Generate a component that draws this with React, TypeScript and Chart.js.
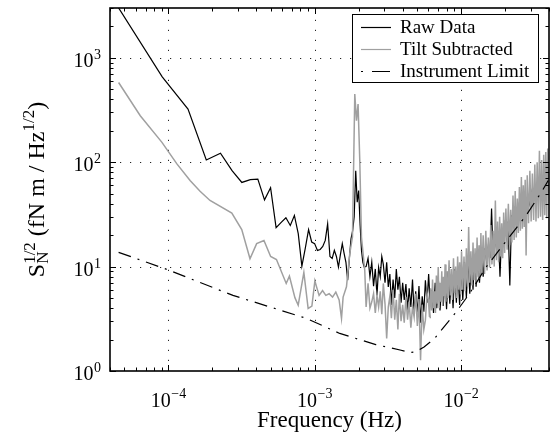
import React, { useEffect, useRef } from "react";
import { Chart, registerables } from "chart.js";

Chart.register(...registerables);

const FONT = '"Liberation Serif", "Times New Roman", Times, serif';

// ---------- Raw data (black) : low-frequency bins ----------
const rawLowFreqHz = [
  4.55e-5, 9.1e-5, 1.365e-4, 1.82e-4, 2.275e-4, 2.73e-4, 3.185e-4, 3.64e-4, 4.095e-4, 4.55e-4,
  5.005e-4, 5.46e-4, 5.915e-4, 6.37e-4, 6.825e-4, 7.28e-4, 7.735e-4, 8.19e-4, 8.645e-4, 9.1e-4,
  9.555e-4, 1.001e-3, 1.0465e-3, 1.092e-3, 1.1375e-3, 1.183e-3, 1.2285e-3, 1.274e-3, 1.3195e-3, 1.365e-3,
  1.4105e-3, 1.456e-3, 1.5015e-3, 1.547e-3, 1.5925e-3, 1.638e-3, 1.6835e-3, 1.729e-3, 1.7745e-3, 1.82e-3,
  1.8655e-3, 1.911e-3, 1.9565e-3, 2.002e-3, 2.0475e-3, 2.093e-3, 2.1385e-3, 2.184e-3,
];
const rawLowValues = [
  3050, 657, 323, 105, 122, 83, 64, 68, 69, 43.6,
  57, 23.6, 26.5, 29.4, 24.8, 30.9, 20.7, 10.1, 15, 22.6,
  17.2, 16.6, 14.3, 14.6, 15.6, 17.8, 25.7, 12.5, 12, 14.3,
  12.5, 9.9, 13, 16.6, 13.3, 11, 7.4, 12, 18.5, 22,
  30, 83, 41.4, 53.5, 25, 14.3, 11, 9.9,
];

// ---------- Tilt subtracted (grey) : low-frequency part ----------
const tiltLowFreqHz = [
  4.58e-5, 6.44e-5, 9.06e-5, 1.146e-4, 1.41e-4, 1.65e-4, 1.93e-4, 2.72e-4, 3.18e-4, 3.62e-4,
  4.02e-4, 4.51e-4, 5.01e-4, 5.49e-4, 6.4e-4, 6.73e-4, 7.34e-4, 7.73e-4, 8.45e-4, 9.04e-4,
  9.59e-4, 1.005e-3, 1.032e-3, 1.074e-3, 1.134e-3, 1.194e-3, 1.258e-3, 1.327e-3, 1.397e-3, 1.472e-3,
  1.528e-3, 1.567e-3, 1.652e-3, 1.74e-3, 1.816e-3, 1.883e-3, 1.934e-3, 1.983e-3, 2.037e-3, 2.092e-3,
  2.203e-3,
];
const tiltLowValues = [
  580, 279, 155, 96.3, 66.7, 52.7, 43, 32.5, 22.6, 11.9,
  16.6, 17.8, 12.5, 11.7, 6.9, 8.1, 5.04, 4.27, 8.8, 3.97,
  4.18, 7.3, 6.4, 5.3, 5.9, 5.3, 5.5, 5.1, 5.7, 4.8,
  3.2, 5.1, 6.4, 13.3, 19.2, 449, 250, 360, 104, 19.2,
  9.2,
];

// ---------- Shared frequencies, 2.2 - 6.2 mHz ----------
const midFreqHz = [
  2.25e-3, 2.32e-3, 2.39e-3, 2.46e-3, 2.53e-3, 2.6e-3, 2.67e-3, 2.74e-3, 2.81e-3, 2.88e-3,
  2.95e-3, 3.03e-3, 3.11e-3, 3.19e-3, 3.27e-3, 3.35e-3, 3.44e-3, 3.53e-3, 3.62e-3, 3.71e-3,
  3.8e-3, 3.9e-3, 4.0e-3, 4.1e-3, 4.21e-3, 4.32e-3, 4.43e-3, 4.55e-3, 4.67e-3, 4.79e-3,
  4.91e-3, 5.04e-3, 5.17e-3, 5.3e-3, 5.44e-3, 5.58e-3, 5.72e-3, 5.87e-3, 6.02e-3, 6.18e-3,
];
const rawMidValues = [
  10, 12, 8, 11, 6.5, 9.5, 5.3, 9.8, 8, 12.5,
  10.5, 7, 11, 6.4, 8.5, 4.3, 7.5, 5.0, 9.5, 6,
  8, 4.5, 7, 4.8, 6.8, 3.8, 6.2, 4.1, 7.5, 3.6,
  5.8, 3.5, 6.5, 2.9, 5.2, 3.7, 7.4, 4.5, 8.5, 4.2,
];
const tiltMidValues = [
  4.1, 6.9, 4.0, 4.6, 5.5, 3.6, 5.3, 4.1, 5.8, 3.5,
  6.9, 4.4, 2.05, 4.1, 5.2, 3.2, 6.0, 3.1, 4.8, 2.5,
  5.5, 3.0, 4.3, 2.9, 5.1, 3.1, 4.6, 2.6, 4.1, 3.3,
  5.5, 2.7, 4.9, 1.27, 4.3, 2.5, 3.07, 5.6, 4.76, 3.2,
];

// ---------- Raw data (black), 6.3 - 40 mHz ----------
const rawHighFreqHz = [
  6.34e-3, 6.5e-3, 6.67e-3, 6.84e-3, 7.02e-3, 7.2e-3, 7.39e-3, 7.58e-3, 7.78e-3, 7.98e-3,
  8.19e-3, 8.4e-3, 8.62e-3, 8.84e-3, 9.07e-3, 9.31e-3, 9.55e-3, 9.8e-3,
  1.005e-2, 1.03e-2, 1.06e-2, 1.09e-2, 1.12e-2, 1.15e-2, 1.18e-2, 1.21e-2, 1.24e-2, 1.27e-2,
  1.3e-2, 1.34e-2, 1.38e-2, 1.42e-2, 1.46e-2, 1.5e-2, 1.54e-2, 1.58e-2, 1.62e-2, 1.66e-2,
  1.7e-2, 1.75e-2, 1.8e-2, 1.85e-2, 1.9e-2, 1.95e-2, 2.0e-2, 2.05e-2, 2.1e-2, 2.16e-2,
  2.22e-2, 2.28e-2, 2.34e-2, 2.4e-2, 2.46e-2, 2.52e-2, 2.59e-2, 2.66e-2, 2.73e-2, 2.8e-2,
  2.87e-2, 2.94e-2, 3.02e-2, 3.1e-2, 3.18e-2, 3.26e-2, 3.34e-2, 3.42e-2, 3.51e-2, 3.6e-2,
  3.69e-2, 3.78e-2, 3.88e-2, 3.98e-2,
];
const rawHighValues = [
  6, 3.6, 7, 4.0, 7.4, 3.8, 7, 4.2, 8, 3.9,
  9, 4.4, 8.5, 4.0, 9.5, 4.5, 9, 4.3,
  10, 4.8, 11, 5.0, 12, 5.5, 12, 6.0, 13, 6.4,
  13, 7.0, 14, 8.0, 15, 11, 16, 12, 36, 13,
  19, 15, 21, 8.0, 22, 17, 25, 19, 27, 6.6,
  31, 25, 35, 28, 38, 31, 42, 34, 44, 37,
  48, 40, 52, 43, 56, 46, 58, 49, 62, 51,
  64, 53, 66, 55,
];

// ---------- Tilt subtracted (grey), 6 - 40 mHz ----------
const tiltHighFreqHz = [
  6.0e-3, 6.1e-3, 6.2e-3, 6.3e-3, 6.4e-3, 6.5e-3, 6.6e-3, 6.7e-3, 6.8e-3, 6.9e-3,
  7.0e-3, 7.1e-3, 7.2e-3, 7.3e-3, 7.4e-3, 7.5e-3, 7.6e-3, 7.7e-3, 7.8e-3, 7.9e-3,
  8.0e-3, 8.15e-3, 8.3e-3, 8.45e-3, 8.6e-3, 8.75e-3, 8.9e-3, 9.05e-3, 9.2e-3, 9.35e-3,
  9.5e-3, 9.65e-3, 9.8e-3, 9.95e-3,
  1.01e-2, 1.03e-2, 1.05e-2, 1.07e-2, 1.09e-2, 1.11e-2, 1.13e-2, 1.15e-2, 1.17e-2, 1.19e-2,
  1.21e-2, 1.23e-2, 1.25e-2, 1.27e-2, 1.29e-2, 1.31e-2, 1.33e-2, 1.35e-2, 1.37e-2, 1.39e-2,
  1.42e-2, 1.45e-2, 1.48e-2, 1.51e-2, 1.54e-2, 1.57e-2, 1.6e-2, 1.63e-2, 1.66e-2, 1.69e-2,
  1.72e-2, 1.75e-2, 1.78e-2, 1.81e-2, 1.84e-2, 1.87e-2, 1.9e-2, 1.93e-2, 1.96e-2, 1.99e-2,
  2.03e-2, 2.07e-2, 2.11e-2, 2.15e-2, 2.19e-2, 2.23e-2, 2.27e-2, 2.31e-2, 2.35e-2, 2.39e-2,
  2.43e-2, 2.47e-2, 2.51e-2, 2.55e-2, 2.59e-2, 2.63e-2, 2.67e-2, 2.71e-2, 2.75e-2, 2.79e-2,
  2.84e-2, 2.9e-2, 2.96e-2, 3.02e-2, 3.08e-2, 3.14e-2, 3.2e-2, 3.26e-2, 3.32e-2, 3.38e-2,
  3.44e-2, 3.5e-2, 3.56e-2, 3.62e-2, 3.68e-2, 3.74e-2, 3.8e-2, 3.86e-2, 3.92e-2, 3.98e-2,
];
const tiltHighValues = [
  4.8, 3.3, 6.2, 3.8, 7.5, 4.0, 5.8, 3.6, 8.2, 4.4,
  9.9, 4.0, 7.0, 4.6, 9.0, 4.2, 8.0, 5.2, 10.5, 4.6,
  9.0, 5.0, 11.5, 5.3, 9.5, 4.8, 12.0, 5.6, 10.0, 5.0,
  12.5, 6.0, 11.0, 5.4,
  14, 6.0, 12.5, 5.8, 15, 6.4, 24, 7.0, 14, 6.6,
  17, 7.4, 15, 7.0, 19, 8.0, 16, 7.6, 21, 8.4,
  20, 8.5, 22, 9.2, 19, 9.8, 25, 10.5, 22, 10,
  43, 11.5, 27, 11, 30, 12.5, 26, 12, 33, 13.5,
  36, 14.5, 40, 16, 35, 17, 48, 18, 53, 19,
  45, 21, 58, 22, 72, 23, 60, 24, 68, 12.8,
  75, 26, 83, 27, 78, 28, 95, 27, 100, 29,
  129, 30, 105, 28, 118, 31, 125, 29, 135, 50,
];

// ---------- Instrument limit (dash-dot) ----------
const limitFreqHz = [
  4.58e-5, 9.8e-5, 1.625e-4, 2.77e-4, 8.81e-4, 1.486e-3, 2.62e-3, 3.84e-3, 4.47e-3, 4.95e-3,
  5.6e-3, 6.61e-3, 9.29e-3, 1.146e-2, 1.487e-2, 2.14e-2, 2.79e-2, 3.61e-2, 3.95e-2,
];
const limitValues = [
  13.7, 9.4, 7.1, 5.3, 3.19, 2.29, 1.79, 1.59, 1.5, 1.53,
  1.7, 2.05, 3.68, 5.52, 9.9, 19.2, 30.9, 53.6, 66.7,
];

// ---------- Axes ----------
const xMin = 4e-5;
const xMax = 4e-2;
const yMin = 1;
const yMax = 3000;
const xTickValues = [1e-4, 1e-3, 1e-2];
const xTickExponents = ["\u22124", "\u22123", "\u22122"];
const yTickValues = [1, 10, 100, 1000];
const yTickExponents = ["0", "1", "2", "3"];
const xTitle = "Frequency (Hz)";
const legendLabels = ["Raw Data", "Tilt Subtracted", "Instrument Limit"];

const RAW_COLOR = "#000000";
const TILT_COLOR = "#a0a0a0";
const LIMIT_DASH = [13, 7, 2, 7];

const toPoints = (xs: number[], ys: number[]) => xs.map((x, i) => ({ x, y: ys[i] }));

function minorValues(min: number, max: number): number[] {
  const out: number[] = [];
  for (let d = Math.floor(Math.log10(min)); d <= Math.ceil(Math.log10(max)); d++) {
    for (let m = 1; m <= 9; m++) {
      const v = m * Math.pow(10, d);
      if (v >= min * 0.999 && v <= max * 1.001) out.push(v);
    }
  }
  return out;
}

const matlabFrame = {
  id: "matlabFrame",
  beforeDatasetsDraw(chart: any) {
    const { ctx, chartArea: a, scales } = chart;
    const x = scales.x;
    const y = scales.y;
    ctx.save();
    ctx.strokeStyle = "#222";
    ctx.lineWidth = 1;
    ctx.setLineDash([1.2, 8.8]);
    for (const v of xTickValues) {
      const px = Math.round(x.getPixelForValue(v)) + 0.5;
      ctx.beginPath();
      ctx.moveTo(px, a.bottom);
      ctx.lineTo(px, a.top);
      ctx.stroke();
    }
    for (const v of yTickValues) {
      if (v <= yMin) continue;
      const py = Math.round(y.getPixelForValue(v)) + 0.5;
      ctx.beginPath();
      ctx.moveTo(a.left, py);
      ctx.lineTo(a.right, py);
      ctx.stroke();
    }
    ctx.restore();
  },
  afterDatasetsDraw(chart: any) {
    const { ctx, chartArea: a, scales } = chart;
    const x = scales.x;
    const y = scales.y;
    ctx.save();
    ctx.setLineDash([]);
    ctx.strokeStyle = "#000";
    ctx.fillStyle = "#000";

    // ticks
    ctx.lineWidth = 1;
    const xMinor = minorValues(xMin, xMax);
    for (const v of xMinor) {
      const major = xTickValues.some((t) => Math.abs(t - v) / t < 1e-6);
      const len = major ? 6 : 3.5;
      const px = Math.round(x.getPixelForValue(v)) + 0.5;
      ctx.beginPath();
      ctx.moveTo(px, a.bottom);
      ctx.lineTo(px, a.bottom - len);
      ctx.moveTo(px, a.top);
      ctx.lineTo(px, a.top + len);
      ctx.stroke();
    }
    const yMinor = minorValues(yMin, yMax);
    for (const v of yMinor) {
      const major = yTickValues.some((t) => Math.abs(t - v) / t < 1e-6);
      const len = major ? 6 : 3.5;
      const py = Math.round(y.getPixelForValue(v)) + 0.5;
      ctx.beginPath();
      ctx.moveTo(a.left, py);
      ctx.lineTo(a.left + len, py);
      ctx.moveTo(a.right, py);
      ctx.lineTo(a.right - len, py);
      ctx.stroke();
    }

    // frame
    ctx.lineWidth = 1.6;
    ctx.strokeRect(a.left, a.top, a.right - a.left, a.bottom - a.top);

    // x tick labels
    const baseFont = `20px ${FONT}`;
    const expFont = `14px ${FONT}`;
    ctx.textAlign = "left";
    ctx.textBaseline = "alphabetic";
    xTickValues.forEach((v, i) => {
      const px = x.getPixelForValue(v);
      ctx.font = baseFont;
      const wb = ctx.measureText("10").width;
      ctx.font = expFont;
      const we = ctx.measureText(xTickExponents[i]).width;
      const x0 = px - (wb + we) / 2;
      ctx.font = baseFont;
      ctx.fillText("10", x0, a.bottom + 36);
      ctx.font = expFont;
      ctx.fillText(xTickExponents[i], x0 + wb + 0.5, a.bottom + 27);
    });

    // y tick labels
    yTickValues.forEach((v, i) => {
      const py = y.getPixelForValue(v);
      ctx.font = expFont;
      const we = ctx.measureText(yTickExponents[i]).width;
      ctx.font = baseFont;
      const wb = ctx.measureText("10").width;
      const right = a.left - 9;
      ctx.fillText("10", right - we - wb - 0.5, py + 9);
      ctx.font = expFont;
      ctx.fillText(yTickExponents[i], right - we, py + 1);
    });

    // x title
    ctx.font = `23px ${FONT}`;
    ctx.textAlign = "center";
    ctx.fillText(xTitle, (a.left + a.right) / 2, a.bottom + 56);

    // y title (rotated, with sub/superscripts)
    ctx.save();
    ctx.translate(44, (a.top + a.bottom) / 2);
    ctx.rotate(-Math.PI / 2);
    ctx.textAlign = "left";
    const big = `24px ${FONT}`;
    const small = `17px ${FONT}`;
    ctx.font = big;
    const wS = ctx.measureText("S").width;
    const wMain = ctx.measureText(" (fN m / Hz").width;
    const wClose = ctx.measureText(")").width;
    ctx.font = small;
    const wHalf = ctx.measureText("1/2").width;
    const wN = ctx.measureText("N").width;
    const wSubSup = Math.max(wHalf, wN);
    const total = wS + wSubSup + wMain + wHalf + wClose;
    let cx = -total / 2;
    ctx.font = big;
    ctx.fillText("S", cx, 0);
    cx += wS;
    ctx.font = small;
    ctx.fillText("N", cx, 4);
    ctx.fillText("1/2", cx, -9);
    cx += wSubSup;
    ctx.font = big;
    ctx.fillText(" (fN m / Hz", cx, 0);
    cx += wMain;
    ctx.font = small;
    ctx.fillText("1/2", cx, -10);
    cx += wHalf;
    ctx.font = big;
    ctx.fillText(")", cx, 0);
    ctx.restore();

    // legend
    const lx = 352.5;
    const ly = 14.5;
    const lw = 186;
    const lh = 68;
    ctx.fillStyle = "#fff";
    ctx.fillRect(lx, ly, lw, lh);
    ctx.strokeStyle = "#000";
    ctx.lineWidth = 1;
    ctx.strokeRect(lx, ly, lw, lh);
    const rowY = [27, 49, 71];
    const colors = [RAW_COLOR, TILT_COLOR, RAW_COLOR];
    legendLabels.forEach((lab, i) => {
      ctx.save();
      ctx.strokeStyle = colors[i];
      ctx.lineWidth = 1.2;
      if (i === 2) {
        ctx.setLineDash([2, 9, 18, 4]);
      }
      ctx.beginPath();
      ctx.moveTo(361, rowY[i] + 0.5);
      ctx.lineTo(391, rowY[i] + 0.5);
      ctx.stroke();
      ctx.restore();
      ctx.fillStyle = "#000";
      ctx.font = `19px ${FONT}`;
      ctx.textAlign = "left";
      ctx.textBaseline = "middle";
      ctx.fillText(lab, 400, rowY[i] + 1);
    });
    ctx.restore();
  },
};

export default function App() {
  const ref = useRef<HTMLCanvasElement>(null);
  useEffect(() => {
    const canvas = ref.current;
    if (!canvas) return;
    const rawData = [
      ...toPoints(rawLowFreqHz, rawLowValues),
      ...toPoints(midFreqHz, rawMidValues),
      ...toPoints(rawHighFreqHz, rawHighValues),
    ];
    const tiltData = [
      ...toPoints(tiltLowFreqHz, tiltLowValues),
      ...toPoints(midFreqHz, tiltMidValues),
      ...toPoints(tiltHighFreqHz, tiltHighValues),
    ];
    const limitData = toPoints(limitFreqHz, limitValues);
    const chart = new Chart(canvas, {
      type: "line",
      data: {
        datasets: [
          {
            label: legendLabels[0],
            data: rawData,
            borderColor: RAW_COLOR,
            borderWidth: 1.2,
            pointRadius: 0,
            order: 2,
            clip: 0,
          },
          {
            label: legendLabels[1],
            data: tiltData,
            borderColor: TILT_COLOR,
            borderWidth: 1.5,
            pointRadius: 0,
            order: 1,
            clip: 0,
          },
          {
            label: legendLabels[2],
            data: limitData,
            borderColor: RAW_COLOR,
            borderWidth: 1.2,
            borderDash: LIMIT_DASH,
            pointRadius: 0,
            order: 0,
            clip: 0,
          },
        ],
      } as any,
      options: {
        animation: false,
        responsive: false,
        devicePixelRatio: 1,
        events: [],
        layout: { padding: { top: 8, right: 7, left: 0, bottom: 0 } },
        elements: { line: { tension: 0 }, point: { radius: 0 } },
        plugins: { legend: { display: false }, tooltip: { enabled: false } },
        scales: {
          x: {
            type: "logarithmic",
            min: xMin,
            max: xMax,
            ticks: { display: false },
            grid: { display: false },
            border: { display: false },
            afterFit: (s: any) => {
              s.height = 72;
            },
          },
          y: {
            type: "logarithmic",
            min: yMin,
            max: yMax,
            ticks: { display: false },
            grid: { display: false },
            border: { display: false },
            afterFit: (s: any) => {
              s.width = 110;
            },
          },
        },
      } as any,
      plugins: [matlabFrame],
    });
    return () => chart.destroy();
  }, []);
  return (
    <div style={{ position: "absolute", left: 0, top: 0, width: 556, height: 443, background: "#fff" }}>
      <canvas ref={ref} width={556} height={443} style={{ display: "block", width: 556, height: 443 }} />
    </div>
  );
}
